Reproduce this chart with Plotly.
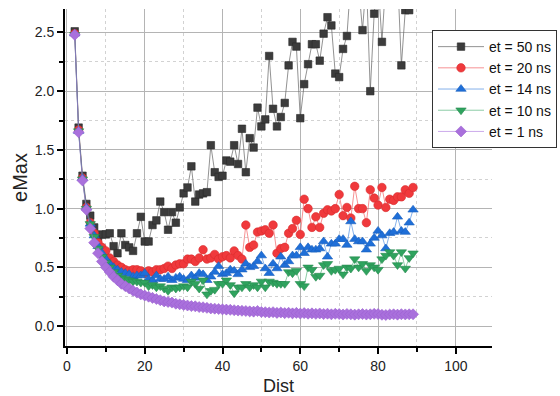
import plotly.graph_objects as go

dist = list(range(2, 90))

et50 = [2.51, 1.69, 1.28, 1.04, 0.94, 0.84, 0.76, 0.78, 0.78, 0.79,
        0.68, 0.62, 0.79, 0.69, 0.67, 0.64, 0.79, 0.93, 0.72, 0.72,
        0.86, 0.90, 1.06, 0.97, 0.82, 0.97, 0.88, 1.01, 1.13, 1.18,
        1.36, 1.06, 1.12, 1.13, 1.14, 1.54, 1.31, 1.27, 1.28, 1.41,
        1.40, 1.54, 1.38, 1.68, 1.31, 1.60, 1.52, 1.86, 1.70, 1.76,
        2.30, 1.85, 1.70, 1.78, 1.90, 2.22, 2.42, 2.38, 1.77, 2.06,
        2.23, 2.40, 2.40, 2.26, 2.49, 2.63, 2.56, 2.15, 2.12, 2.36,
        2.47, 2.95, 3.10, 2.90, 2.52, 2.95, 2.00, 2.66, 2.95, 2.42,
        2.95, 3.05, 2.90, 3.00, 2.22, 2.69, 2.69, 2.95]

et20 = [2.49, 1.67, 1.26, 1.01, 0.88, 0.79, 0.71, 0.67, 0.64, 0.58,
        0.55, 0.52, 0.50, 0.48, 0.47, 0.48, 0.48, 0.47, 0.45, 0.47,
        0.46, 0.48, 0.48, 0.49, 0.51, 0.49, 0.52, 0.53, 0.53, 0.57,
        0.57, 0.55, 0.58, 0.65, 0.57, 0.58, 0.61, 0.57, 0.59, 0.60,
        0.58, 0.64, 0.60, 0.57, 0.86, 0.67, 0.69, 0.80, 0.81, 0.82,
        0.79, 0.86, 0.62, 0.66, 0.67, 0.79, 0.83, 0.90, 0.78, 1.08,
        1.00, 0.84, 0.93, 0.84, 0.96, 0.99, 0.98, 1.00, 1.12, 0.94,
        1.01, 0.92, 1.19, 1.00, 1.00, 0.88, 1.16, 1.09, 1.03, 1.18,
        1.01, 1.08, 1.07, 1.10, 1.10, 1.16, 1.13, 1.18]

et14 = [2.49, 1.66, 1.26, 1.01, 0.87, 0.77, 0.68, 0.62, 0.57, 0.53,
        0.50, 0.48, 0.46, 0.45, 0.44, 0.42, 0.43, 0.43, 0.45, 0.40,
        0.39, 0.43, 0.40, 0.40, 0.42, 0.39, 0.41, 0.42, 0.40, 0.39,
        0.43, 0.41, 0.45, 0.44, 0.39, 0.42, 0.46, 0.51, 0.44, 0.45,
        0.48, 0.47, 0.44, 0.48, 0.53, 0.50, 0.51, 0.55, 0.60, 0.49,
        0.45, 0.53, 0.49, 0.59, 0.52, 0.55, 0.60, 0.60, 0.67, 0.62,
        0.67, 0.65, 0.65, 0.66, 0.72, 0.59, 0.70, 0.70, 0.74, 0.74,
        0.69, 0.89, 0.74, 0.72, 0.72, 0.65, 0.70, 0.75, 0.81, 0.77,
        0.66, 0.79, 0.80, 0.93, 0.81, 0.80, 0.88, 0.99]

et10 = [2.48, 1.66, 1.25, 1.00, 0.87, 0.76, 0.66, 0.59, 0.54, 0.50,
        0.46, 0.43, 0.41, 0.40, 0.39, 0.38, 0.38, 0.37, 0.37, 0.34,
        0.35, 0.33, 0.34, 0.32, 0.30, 0.33, 0.32, 0.33, 0.34, 0.33,
        0.38, 0.36, 0.32, 0.39, 0.27, 0.30, 0.31, 0.36, 0.36, 0.39,
        0.35, 0.28, 0.33, 0.33, 0.36, 0.33, 0.35, 0.33, 0.38, 0.33,
        0.38, 0.37, 0.36, 0.36, 0.36, 0.46, 0.45, 0.47, 0.36, 0.34,
        0.50, 0.48, 0.42, 0.43, 0.52, 0.53, 0.47, 0.48, 0.49, 0.44,
        0.50, 0.49, 0.57, 0.50, 0.53, 0.47, 0.52, 0.50, 0.48, 0.57,
        0.60, 0.63, 0.60, 0.52, 0.63, 0.49, 0.58, 0.62]

et1 = [2.48, 1.65, 1.24, 0.99, 0.83, 0.71, 0.62, 0.55, 0.50, 0.46,
       0.42, 0.39, 0.36, 0.34, 0.32, 0.30, 0.285, 0.27, 0.26, 0.25,
       0.24, 0.23, 0.22, 0.21, 0.205, 0.20, 0.19, 0.185, 0.18, 0.175,
       0.17, 0.168, 0.162, 0.16, 0.155, 0.15, 0.148, 0.145, 0.142, 0.14,
       0.138, 0.135, 0.132, 0.13, 0.128, 0.125, 0.123, 0.128, 0.12, 0.118,
       0.115, 0.118, 0.112, 0.115, 0.11, 0.113, 0.108, 0.112, 0.106, 0.11,
       0.105, 0.108, 0.104, 0.107, 0.102, 0.105, 0.10, 0.104, 0.102, 0.098,
       0.103, 0.10, 0.097, 0.10, 0.102, 0.098, 0.10, 0.104, 0.102, 0.096,
       0.094, 0.098, 0.10, 0.097, 0.101, 0.099, 0.10, 0.10]

series_names = ["et = 50 ns", "et = 20 ns", "et = 14 ns", "et = 10 ns", "et = 1 ns"]
series_values = [et50, et20, et14, et10, et1]
marker_colors = ["#3C3C3C", "#F0393C", "#1F6FD8", "#2FA35E", "#A970DC"]
line_colors = ["rgba(100,100,100,0.7)", "rgba(240,57,60,0.55)", "rgba(31,111,216,0.55)",
               "rgba(47,163,94,0.55)", "rgba(169,112,220,0.6)"]
edge_colors = ["#2A2A2A", "#D92B2E", "#1A5FBE", "#268A4F", "#9A60D0"]
symbols = ["square", "circle", "triangle-up", "triangle-down", "diamond"]
sizes = [7.5, 8.5, 9, 9, 8.5]

fig = go.Figure()
for name, vals, mc, lc, ec, sym, sz in zip(series_names, series_values, marker_colors,
                                            line_colors, edge_colors, symbols, sizes):
    fig.add_trace(go.Scatter(
        x=dist, y=vals, name=name, mode="lines+markers",
        line=dict(color=lc, width=1),
        marker=dict(symbol=sym, size=sz, color=mc, line=dict(color=ec, width=0.6)),
        cliponaxis=True,
    ))

font_family = "Liberation Sans, Arial, sans-serif"
axis_common = dict(
    showline=True, linecolor="black", linewidth=2, mirror=False,
    ticks="outside", ticklen=6, tickwidth=1.5, tickcolor="black",
    showgrid=True, gridcolor="#B4B4B4", gridwidth=1,
    zeroline=False,
    tickfont=dict(family=font_family, size=14, color="#222"),
)

fig.update_xaxes(
    range=[-0.5, 109.3], tick0=0, dtick=20,
    minor=dict(dtick=10, tick0=0, ticks="outside", ticklen=4, tickcolor="black",
               showgrid=True, gridcolor="#D2D2D2", griddash="dot", gridwidth=1),
    title=dict(text="Dist", standoff=8, font=dict(family=font_family, size=18, color="#222")),
    **axis_common,
)
fig.update_yaxes(
    range=[-0.17, 2.70], tick0=0, dtick=0.5, tickformat=".1f",
    minor=dict(dtick=0.25, tick0=0, ticks="outside", ticklen=4, tickcolor="black",
               showgrid=True, gridcolor="#D2D2D2", griddash="dot", gridwidth=1),
    title=dict(text="eMax", standoff=2, font=dict(family=font_family, size=20, color="#222")),
    **axis_common,
)

fig.update_layout(
    width=560, height=396,
    margin=dict(l=65, r=68, t=9, b=50, autoexpand=False),
    paper_bgcolor="white", plot_bgcolor="white",
    showlegend=True,
    legend=dict(
        x=0.8595, y=0.9376, xanchor="left", yanchor="top",
        bgcolor="white", bordercolor="#333", borderwidth=1,
        font=dict(family=font_family, size=14, color="#111"),
        itemwidth=46, tracegroupgap=0,
    ),
)

fig.write_html("out.html")
